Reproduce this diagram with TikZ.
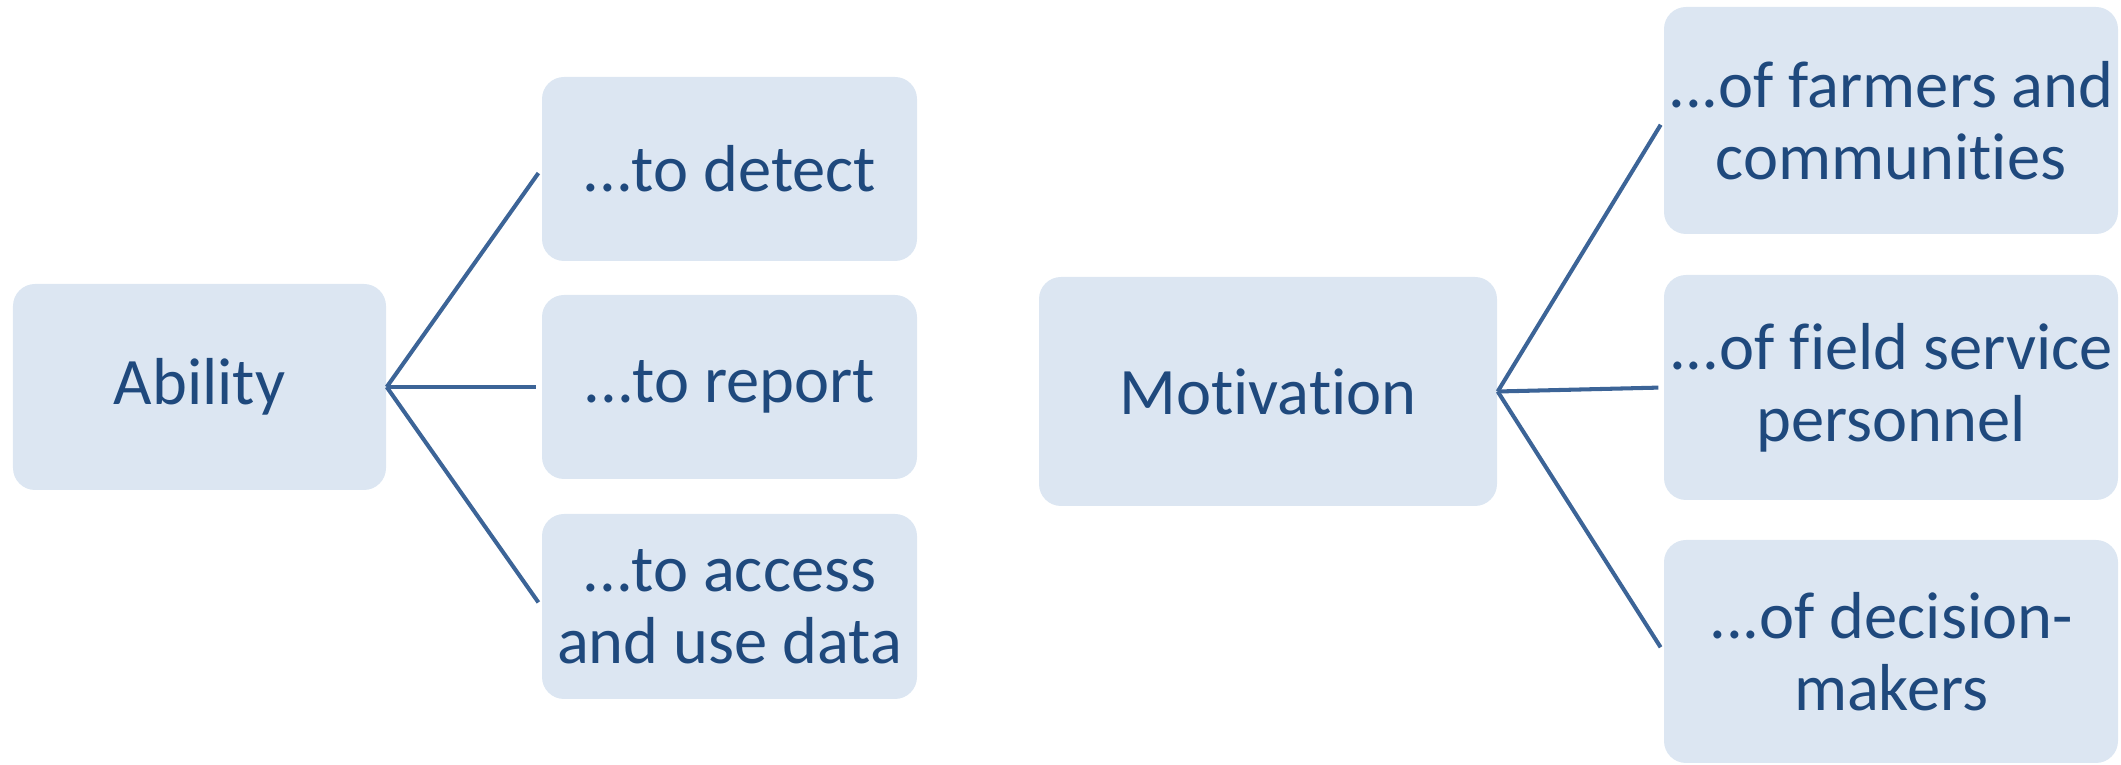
\documentclass[tikz,border=0pt]{standalone}
\usepackage{fontspec}
\setmainfont[Ligatures=NoCommon]{Carlito}
\usepackage{xcolor}
\usepackage{tikz}
\usetikzlibrary{positioning}
\definecolor{boxFill}{HTML}{DCE6F2}
\definecolor{boxText}{HTML}{1F497D}
\definecolor{fanLine}{HTML}{3C6497}
\tikzset{
  blk/.style={rectangle, rounded corners=0.22cm, fill=boxFill, inner sep=0pt, align=center,
    text=boxText, font=\fontsize{18.9}{20.5}\selectfont},
  fan/.style={fanLine, line width=1.15pt, shorten >=0.05cm},
}

\begin{document}
\begin{tikzpicture}
\useasboundingbox (0,0) rectangle (21.21,7.65);
% left group
\node[blk, minimum width=3.73cm, minimum height=2.06cm] (ability) at (1.995,3.78) {Ability};
\node[blk, minimum width=3.75cm, minimum height=1.84cm] (detect) at (7.295,5.96) {...to detect};
\node[blk, minimum width=3.75cm, minimum height=1.84cm] (report) at (7.295,3.78) {...to report};
\node[blk, minimum width=3.75cm, minimum height=1.85cm] (access) at (7.295,1.585) {...to access\\and use data};
\draw[fan] (ability.east) -- (detect.west);
\draw[fan] (ability.east) -- (report.west);
\draw[fan] (ability.east) -- (access.west);
% right group
\node[blk, minimum width=4.58cm, minimum height=2.29cm] (motiv) at (12.68,3.735) {Motivation};
\node[blk, minimum width=4.54cm, minimum height=2.27cm] (farmers) at (18.91,6.445) {...of farmers and\\communities};
\node[blk, minimum width=4.54cm, minimum height=2.25cm] (field) at (18.91,3.775) {...of field service\\personnel};
\node[blk, minimum width=4.54cm, minimum height=2.23cm] (decision) at (18.91,1.135) {...of decision-\\makers};
\draw[fan] (motiv.east) -- (farmers.west);
\draw[fan] (motiv.east) -- (field.west);
\draw[fan] (motiv.east) -- (decision.west);
\end{tikzpicture}
\end{document}
